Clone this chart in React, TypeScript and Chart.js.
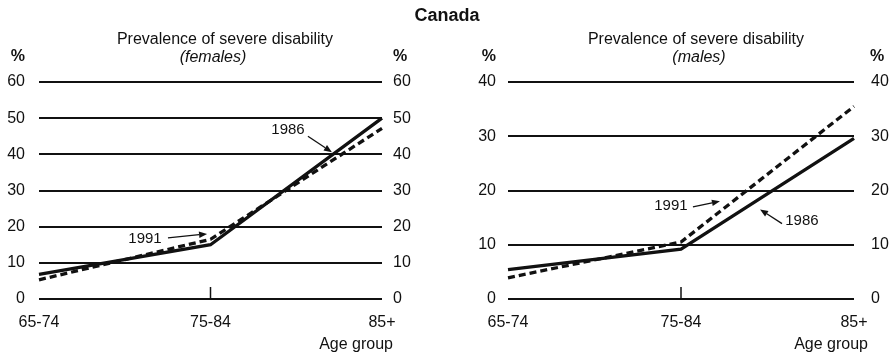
import React, { useEffect, useRef } from "react";
import { Chart, registerables } from "chart.js";

Chart.register(...registerables);

// ---------- data ----------
const categories = ["65-74", "75-84", "85+"];
const females1986 = [6.8, 15, 50];
const females1991 = [5.3, 16.5, 47.2];
const males1986 = [5.4, 9.2, 29.6];
const males1991 = [3.9, 10.5, 35.5];
const femalesYMax = 60;
const malesYMax = 40;
const yStep = 10;
const tickMarkIndex = 1; // small tick at "75-84"

// annotation anchors in data units: [category index, value]
const femalesNotes = [
  { label: "1986", text: [1.452, 46.7], from: [1.568, 45], to: [1.708, 40.6] },
  { label: "1991", text: [0.618, 16.7], from: [0.752, 16.9], to: [0.98, 18] },
];
const malesNotes = [
  { label: "1991", text: [0.942, 17.2], from: [1.069, 17.0], to: [1.225, 18] },
  { label: "1986", text: [1.699, 14.4], from: [1.584, 13.9], to: [1.457, 16.5] },
];

const FONT = "'Liberation Sans', Arial, Helvetica, sans-serif";
const INK = "#111";

type Note = { label: string; text: number[]; from: number[]; to: number[] };

function xPix(chart: any, idx: number) {
  const xs = chart.scales.x;
  const a = xs.getPixelForValue(Math.floor(idx));
  const b = xs.getPixelForValue(Math.min(Math.floor(idx) + 1, categories.length - 1));
  const f = idx - Math.floor(idx);
  return a + (b - a) * f;
}

function makeNotesPlugin(notes: Note[]) {
  return {
    id: "notes",
    afterDatasetsDraw(chart: any) {
      const ctx = chart.ctx;
      const ys = chart.scales.y;
      ctx.save();
      ctx.fillStyle = INK;
      ctx.strokeStyle = INK;
      ctx.font = `15px ${FONT}`;
      ctx.textAlign = "center";
      ctx.textBaseline = "middle";
      for (const n of notes) {
        ctx.fillText(n.label, xPix(chart, n.text[0]), ys.getPixelForValue(n.text[1]));
        const x1 = xPix(chart, n.from[0]);
        const y1 = ys.getPixelForValue(n.from[1]);
        const x2 = xPix(chart, n.to[0]);
        const y2 = ys.getPixelForValue(n.to[1]);
        const ang = Math.atan2(y2 - y1, x2 - x1);
        const hl = 8;
        const hw = 3.2;
        const bx = x2 - hl * Math.cos(ang);
        const by = y2 - hl * Math.sin(ang);
        ctx.lineWidth = 1.3;
        ctx.beginPath();
        ctx.moveTo(x1, y1);
        ctx.lineTo(bx, by);
        ctx.stroke();
        ctx.beginPath();
        ctx.moveTo(x2, y2);
        ctx.lineTo(bx + hw * Math.sin(ang), by - hw * Math.cos(ang));
        ctx.lineTo(bx - hw * Math.sin(ang), by + hw * Math.cos(ang));
        ctx.closePath();
        ctx.fill();
      }
      ctx.restore();
    },
  };
}

const tickMarkPlugin = {
  id: "tickMark",
  afterDatasetsDraw(chart: any) {
    const ctx = chart.ctx;
    const x = chart.scales.x.getPixelForValue(tickMarkIndex);
    const b = chart.chartArea.bottom;
    ctx.save();
    ctx.strokeStyle = INK;
    ctx.lineWidth = 1.5;
    ctx.beginPath();
    ctx.moveTo(x, b - 12);
    ctx.lineTo(x, b);
    ctx.stroke();
    ctx.restore();
  },
};

function makeConfig(
  d1986: number[],
  d1991: number[],
  yMax: number,
  geo: { leftW: number; rightW: number; leftPad: number; rightPad: number },
  notes: Note[]
): any {
  const tickFont = { family: FONT, size: 16 };
  return {
    type: "line",
    data: {
      labels: categories,
      datasets: [
        {
          label: "1986",
          data: d1986,
          borderColor: INK,
          borderWidth: 3.3,
          pointRadius: 0,
          tension: 0,
          yAxisID: "y",
        },
        {
          label: "1991",
          data: d1991,
          borderColor: INK,
          borderWidth: 3.3,
          borderDash: [7, 4],
          pointRadius: 0,
          tension: 0,
          yAxisID: "y",
        },
      ],
    },
    options: {
      responsive: false,
      animation: false,
      layout: { padding: { top: 82, bottom: 0, left: 0, right: 0 } },
      plugins: { legend: { display: false }, tooltip: { enabled: false }, title: { display: false } },
      scales: {
        x: {
          type: "category",
          offset: false,
          grid: { display: false, drawTicks: false },
          border: { display: false },
          ticks: { padding: 14, font: tickFont, color: INK, maxRotation: 0, autoSkip: false },
          afterFit: (s: any) => {
            s.height = 56;
          },
        },
        y: {
          position: "left",
          min: 0,
          max: yMax,
          ticks: { stepSize: yStep, padding: geo.leftPad, font: tickFont, color: INK },
          grid: { color: INK, lineWidth: 2, drawTicks: false },
          border: { display: false },
          afterFit: (s: any) => {
            s.width = geo.leftW;
          },
        },
        y2: {
          position: "right",
          min: 0,
          max: yMax,
          ticks: { stepSize: yStep, padding: geo.rightPad, font: tickFont, color: INK },
          grid: { display: false, drawTicks: false },
          border: { display: false },
          afterFit: (s: any) => {
            s.width = geo.rightW;
          },
        },
      },
    },
    plugins: [tickMarkPlugin, makeNotesPlugin(notes)],
  };
}

function Label(props: {
  x: number;
  y: number;
  text: string;
  align?: "left" | "center" | "right";
  bold?: boolean;
  italic?: boolean;
  size?: number;
}) {
  const { x, y, text, align = "center", bold, italic, size = 16 } = props;
  const tx = align === "center" ? "-50%" : align === "right" ? "-100%" : "0";
  return (
    <div
      style={{
        position: "absolute",
        left: x,
        top: y,
        transform: `translate(${tx}, -50%)`,
        fontFamily: FONT,
        fontSize: size,
        fontWeight: bold ? "bold" : "normal",
        fontStyle: italic ? "italic" : "normal",
        color: INK,
        whiteSpace: "nowrap",
        lineHeight: 1,
      }}
    >
      {text}
    </div>
  );
}

export default function App() {
  const leftRef = useRef<HTMLCanvasElement>(null);
  const rightRef = useRef<HTMLCanvasElement>(null);

  useEffect(() => {
    const c1 = new Chart(
      leftRef.current as HTMLCanvasElement,
      makeConfig(females1986, females1991, femalesYMax, { leftW: 39, rightW: 65, leftPad: 14, rightPad: 11 }, femalesNotes)
    );
    const c2 = new Chart(
      rightRef.current as HTMLCanvasElement,
      makeConfig(males1986, males1991, malesYMax, { leftW: 61, rightW: 41, leftPad: 12, rightPad: 17 }, malesNotes)
    );
    return () => {
      c1.destroy();
      c2.destroy();
    };
  }, []);

  return (
    <div style={{ position: "fixed", left: 0, top: 0, width: 895, height: 355, background: "#fff", overflow: "hidden" }}>
      <canvas ref={leftRef} width={447} height={355} style={{ position: "absolute", left: 0, top: 0 }} />
      <canvas ref={rightRef} width={448} height={355} style={{ position: "absolute", left: 447, top: 0 }} />
      <Label x={447} y={15} text="Canada" bold size={18} />
      <Label x={225} y={39} text="Prevalence of severe disability" />
      <Label x={213} y={57} text="(females)" italic />
      <Label x={696} y={39} text="Prevalence of severe disability" />
      <Label x={699} y={57} text="(males)" italic />
      <Label x={25} y={56} text="%" align="right" bold />
      <Label x={393} y={56} text="%" align="left" bold />
      <Label x={496} y={56} text="%" align="right" bold />
      <Label x={870} y={56} text="%" align="left" bold />
      <Label x={393} y={344} text="Age group" align="right" />
      <Label x={868} y={344} text="Age group" align="right" />
    </div>
  );
}
